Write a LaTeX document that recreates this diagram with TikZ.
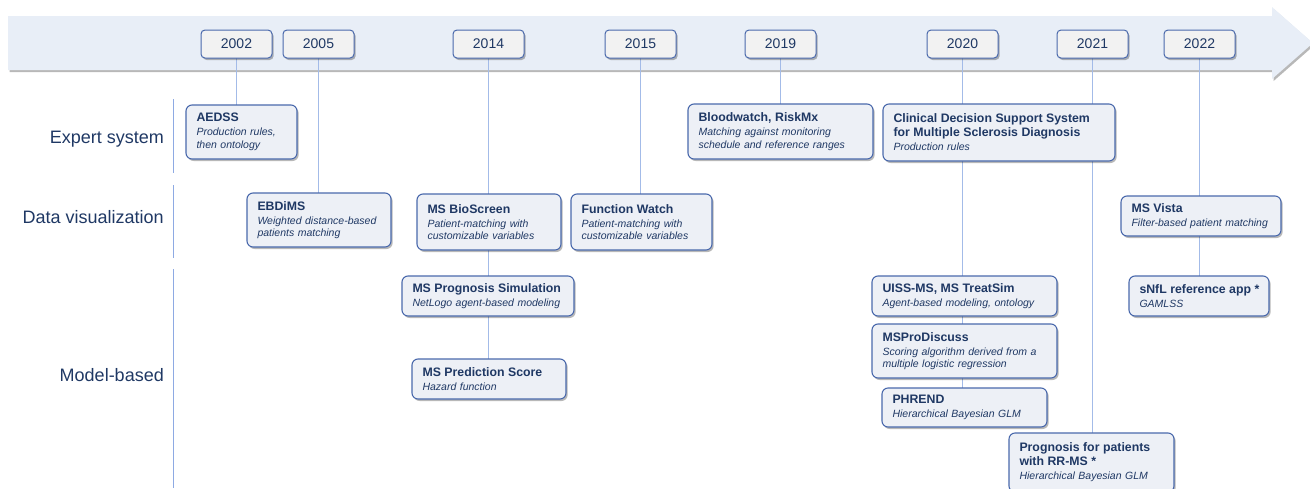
\documentclass[tikz,border=0pt]{standalone}
\usepackage{fontspec}
\setmainfont{Liberation Sans}
\usetikzlibrary{shadows,backgrounds}
\definecolor{navy}{HTML}{1F3864}
\definecolor{boxfill}{HTML}{EDF0F6}
\definecolor{boxline}{HTML}{4A69AC}
\definecolor{yearfill}{HTML}{F2F2F2}
\definecolor{bandfill}{HTML}{E8EEF7}
\definecolor{connline}{HTML}{A3BBE8}
\definecolor{sepline}{HTML}{8EAAE3}
\newcommand\ttl[1]{\mbox{\fontsize{12.3}{14}\selectfont\bfseries #1}}
\newcommand\sbt[1]{\mbox{\fontsize{10.5}{12.5}\selectfont\itshape #1}}
\tikzset{
  shad/.style={drop shadow={shadow xshift=1.6pt,shadow yshift=-2pt,fill=black,opacity=0.28}},
  card/.style n args={3}{draw=boxline, line width=1.1pt, fill=boxfill, rounded corners=6pt, shad,
    anchor=north west, outer sep=0pt, minimum width=#1pt, minimum height=#2pt, text width=#3pt,
    inner xsep=10.5pt, inner ysep=2pt, align=left, text=navy, font=\fontsize{10.5}{12.5}\selectfont},
  yearbox/.style={draw=boxline, line width=1pt, fill=yearfill, rounded corners=4pt, shad,
    anchor=north west, outer sep=0pt, minimum width=71pt, minimum height=28pt, inner sep=0pt,
    text=navy, font=\fontsize{14}{16}\selectfont},
  rowlab/.style={anchor=east, text=navy, font=\fontsize{18}{20}\selectfont, inner sep=0pt},
  conn/.style={draw=connline, line width=0.9pt},
  sepl/.style={draw=sepline, line width=0.9pt}
}
\begin{document}
\begin{tikzpicture}[x=1pt,y=-1pt]
\useasboundingbox (0,0) rectangle (1310,488);

% year boxes
\node[yearbox] (y2002) at (201,30) {2002};
\node[yearbox] (y2005) at (283,30) {2005};
\node[yearbox] (y2014) at (453,30) {2014};
\node[yearbox] (y2015) at (605,30) {2015};
\node[yearbox] (y2019) at (745,30) {2019};
\node[yearbox] (y2020) at (927,30) {2020};
\node[yearbox] (y2021) at (1057,30) {2021};
\node[yearbox] (y2022) at (1164,30) {2022};

% row labels
\node[rowlab] (lexp) at (164,139) {Expert system};
\node[rowlab] (lvis) at (164,217) {Data visualization};
\node[rowlab] (lmod) at (164,375) {Model-based};

% cards
\node[card={111}{54}{90}] (aedss) at (186,105) {\ttl{AEDSS}\\[1.5pt]\sbt{Production rules,}\\\sbt{then ontology}};
\node[card={144}{54}{123}] (ebdims) at (247,193) {\ttl{EBDiMS}\\[1.5pt]\sbt{Weighted distance-based}\\\sbt{patients matching}};
\node[card={144}{56}{123}] (bio) at (417,194) {\ttl{MS BioScreen}\\[1.5pt]\sbt{Patient-matching with}\\\sbt{customizable variables}};
\node[card={141}{56}{120}] (fw) at (571,194) {\ttl{Function Watch}\\[1.5pt]\sbt{Patient-matching with}\\\sbt{customizable variables}};
\node[card={185}{55}{164}] (blood) at (688,104) {\ttl{Bloodwatch, RiskMx}\\[1.5pt]\sbt{Matching against monitoring}\\\sbt{schedule and reference ranges}};
\node[card={232}{57}{211}] (cdss) at (883,104) {\ttl{Clinical Decision Support System}\\[1.5pt]\ttl{for Multiple Sclerosis Diagnosis}\\[1.5pt]\sbt{Production rules}};
\node[card={160}{40}{139}] (vista) at (1121,196) {\ttl{MS Vista}\\[1.5pt]\sbt{Filter-based patient matching}};
\node[card={172}{40}{151}] (progsim) at (402,276) {\ttl{MS Prognosis Simulation}\\[1.5pt]\sbt{NetLogo agent-based modeling}};
\node[card={154}{40}{133}] (pred) at (412,359) {\ttl{MS Prediction Score}\\[1.5pt]\sbt{Hazard function}};
\node[card={185}{40}{164}] (uiss) at (872,276) {\ttl{UISS-MS, MS TreatSim}\\[1.5pt]\sbt{Agent-based modeling, ontology}};
\node[card={185}{54}{164}] (mspro) at (872,324) {\ttl{MSProDiscuss}\\[1.5pt]\sbt{Scoring algorithm derived from a}\\\sbt{multiple logistic regression}};
\node[card={165}{39}{144}] (phrend) at (882,388) {\ttl{PHREND}\\[1.5pt]\sbt{Hierarchical Bayesian GLM}};
\node[card={165}{59}{144}] (rrms) at (1009,433) {\ttl{Prognosis for patients}\\[1.5pt]\ttl{with RR-MS *}\\[1.5pt]\sbt{Hierarchical Bayesian GLM}};
\node[card={140}{40}{119}] (snfl) at (1129,276) {\ttl{sNfL reference app *}\\[1.5pt]\sbt{GAMLSS}};

\begin{scope}[on background layer]
  % timeline arrow band
  \path[fill=bandfill, shad] (8,16) -- (1272,16) -- (1272,7) -- (1313,43) -- (1272,79) -- (1272,70) -- (8,70) -- cycle;
  % row separators
  \draw[sepl] (173,99) -- (173,173);
  \draw[sepl] (173,185) -- (173,258);
  \draw[sepl] (173,269) -- (173,488);
  % connectors
  \draw[conn] (y2002.south) -- (y2002.south |- aedss.north);
  \draw[conn] (y2005.south) -- (y2005.south |- ebdims.north);
  \draw[conn] (y2014.south) -- (y2014.south |- bio.north);
  \draw[conn] (y2014.south |- bio.south) -- (y2014.south |- progsim.north);
  \draw[conn] (y2014.south |- progsim.south) -- (y2014.south |- pred.north);
  \draw[conn] (y2015.south) -- (y2015.south |- fw.north);
  \draw[conn] (y2019.south) -- (y2019.south |- blood.north);
  \draw[conn] (y2020.south) -- (y2020.south |- cdss.north);
  \draw[conn] (y2020.south |- cdss.south) -- (y2020.south |- uiss.north);
  \draw[conn] (y2020.south |- uiss.south) -- (y2020.south |- mspro.north);
  \draw[conn] (y2020.south |- mspro.south) -- (y2020.south |- phrend.north);
  \draw[conn] (y2021.south) -- (y2021.south |- cdss.north);
  \draw[conn] (y2021.south |- cdss.south) -- (y2021.south |- rrms.north);
  \draw[conn] (y2022.south) -- (y2022.south |- vista.north);
  \draw[conn] (y2022.south |- vista.south) -- (y2022.south |- snfl.north);
\end{scope}
\end{tikzpicture}
\end{document}
